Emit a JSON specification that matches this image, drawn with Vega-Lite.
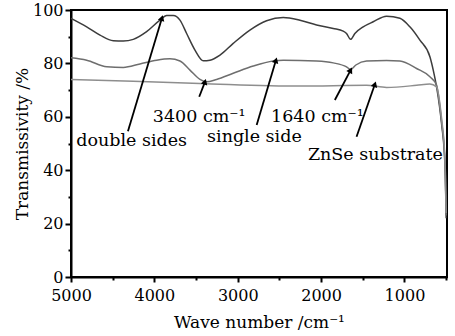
{
  "$schema": "https://vega.github.io/schema/vega-lite/v6.json",
  "width": 376,
  "height": 267,
  "autosize": "none",
  "padding": {"left": 71, "top": 10, "right": 8, "bottom": 59},
  "background": "white",
  "config": {
    "view": {"stroke": "black", "strokeWidth": 2},
    "font": "DejaVu Serif"
  },
  "resolve": {"axis": {"x": "independent", "y": "independent"}},
  "datasets": {
    "curves": [
      {"s": "double", "wn": 5000, "t": 96.9}, {"s": "double", "wn": 4812, "t": 93.7}, {"s": "double", "wn": 4652, "t": 90.6},
      {"s": "double", "wn": 4493, "t": 88.5}, {"s": "double", "wn": 4373, "t": 88.4}, {"s": "double", "wn": 4253, "t": 89.0},
      {"s": "double", "wn": 4093, "t": 91.9}, {"s": "double", "wn": 3933, "t": 96.2}, {"s": "double", "wn": 3853, "t": 97.9},
      {"s": "double", "wn": 3773, "t": 97.9}, {"s": "double", "wn": 3693, "t": 96.2}, {"s": "double", "wn": 3613, "t": 91.2},
      {"s": "double", "wn": 3513, "t": 85.0}, {"s": "double", "wn": 3413, "t": 81.0}, {"s": "double", "wn": 3333, "t": 81.2},
      {"s": "double", "wn": 3213, "t": 83.1}, {"s": "double", "wn": 3054, "t": 87.5}, {"s": "double", "wn": 2854, "t": 92.5},
      {"s": "double", "wn": 2654, "t": 96.0}, {"s": "double", "wn": 2454, "t": 97.2}, {"s": "double", "wn": 2254, "t": 96.2},
      {"s": "double", "wn": 2054, "t": 94.4}, {"s": "double", "wn": 1855, "t": 93.1}, {"s": "double", "wn": 1735, "t": 92.1},
      {"s": "double", "wn": 1695, "t": 91.2}, {"s": "double", "wn": 1646, "t": 89.0}, {"s": "double", "wn": 1595, "t": 91.2},
      {"s": "double", "wn": 1495, "t": 93.7}, {"s": "double", "wn": 1375, "t": 95.6}, {"s": "double", "wn": 1215, "t": 97.7},
      {"s": "double", "wn": 1055, "t": 96.9}, {"s": "double", "wn": 935, "t": 93.7}, {"s": "double", "wn": 815, "t": 88.7},
      {"s": "double", "wn": 695, "t": 82.5}, {"s": "double", "wn": 655, "t": 77.5}, {"s": "double", "wn": 615, "t": 71.2},
      {"s": "double", "wn": 580, "t": 64}, {"s": "double", "wn": 550, "t": 56}, {"s": "double", "wn": 525, "t": 48},
      {"s": "double", "wn": 510, "t": 38}, {"s": "double", "wn": 500, "t": 22},
      {"s": "single", "wn": 5000, "t": 82.1}, {"s": "single", "wn": 4812, "t": 81.2}, {"s": "single", "wn": 4570, "t": 78.7},
      {"s": "single", "wn": 4373, "t": 78.5}, {"s": "single", "wn": 4173, "t": 79.8}, {"s": "single", "wn": 3973, "t": 81.2},
      {"s": "single", "wn": 3813, "t": 81.7}, {"s": "single", "wn": 3693, "t": 80.9}, {"s": "single", "wn": 3573, "t": 77.5},
      {"s": "single", "wn": 3453, "t": 74.0}, {"s": "single", "wn": 3373, "t": 73.1}, {"s": "single", "wn": 3254, "t": 74.0},
      {"s": "single", "wn": 3054, "t": 76.3}, {"s": "single", "wn": 2814, "t": 79.0}, {"s": "single", "wn": 2574, "t": 80.9},
      {"s": "single", "wn": 2454, "t": 81.2}, {"s": "single", "wn": 2054, "t": 80.9}, {"s": "single", "wn": 1855, "t": 80.2},
      {"s": "single", "wn": 1695, "t": 78.7}, {"s": "single", "wn": 1646, "t": 77.7}, {"s": "single", "wn": 1583, "t": 79.4},
      {"s": "single", "wn": 1455, "t": 80.9}, {"s": "single", "wn": 1215, "t": 81.1}, {"s": "single", "wn": 1055, "t": 80.9},
      {"s": "single", "wn": 855, "t": 78.1}, {"s": "single", "wn": 695, "t": 75.0}, {"s": "single", "wn": 615, "t": 71.9},
      {"s": "single", "wn": 580, "t": 65}, {"s": "single", "wn": 550, "t": 57}, {"s": "single", "wn": 525, "t": 49},
      {"s": "single", "wn": 510, "t": 39}, {"s": "single", "wn": 500, "t": 23},
      {"s": "znse", "wn": 5000, "t": 74.0}, {"s": "znse", "wn": 4253, "t": 73.3}, {"s": "znse", "wn": 3453, "t": 72.5},
      {"s": "znse", "wn": 2254, "t": 71.5}, {"s": "znse", "wn": 1455, "t": 71.8}, {"s": "znse", "wn": 1215, "t": 71.0},
      {"s": "znse", "wn": 855, "t": 71.8}, {"s": "znse", "wn": 695, "t": 72.3}, {"s": "znse", "wn": 615, "t": 71.2},
      {"s": "znse", "wn": 580, "t": 66}, {"s": "znse", "wn": 550, "t": 58}, {"s": "znse", "wn": 525, "t": 50},
      {"s": "znse", "wn": 510, "t": 40}, {"s": "znse", "wn": 500, "t": 24}
    ],
    "arrows": [
      {"id": "double", "x1": 4317, "y1": 54.6, "x2": 3909, "y2": 97.0},
      {"id": "3400", "x1": 3462, "y1": 67.5, "x2": 3393, "y2": 73.1},
      {"id": "single", "x1": 2773, "y1": 56.9, "x2": 2542, "y2": 81.2},
      {"id": "1640", "x1": 1835, "y1": 66.3, "x2": 1646, "y2": 77.5},
      {"id": "znse", "x1": 1575, "y1": 52.5, "x2": 1355, "y2": 72.2}
    ],
    "labels": [
      {"label": "double sides", "wn": 4273, "t": 49.1},
      {"label": "3400 cm⁻¹", "wn": 3462, "t": 58.0},
      {"label": "single side", "wn": 2800, "t": 50.6},
      {"label": "1640 cm⁻¹", "wn": 2044, "t": 58.0},
      {"label": "ZnSe substrate", "wn": 1349, "t": 43.8}
    ]
  },
  "layer": [
    {
      "data": {"name": "curves"},
      "mark": {"type": "line", "strokeWidth": 1.5, "interpolate": "monotone"},
      "encoding": {
        "x": {
          "field": "wn", "type": "quantitative",
          "scale": {"domain": [490, 5000], "reverse": true, "nice": false, "zero": false},
          "axis": {
            "values": [5000, 4000, 3000, 2000, 1000], "format": "d",
            "title": "Wave number /cm⁻¹",
            "titleFont": "DejaVu Serif", "titleFontSize": 17, "titleFontWeight": "normal", "titleColor": "black", "titlePadding": 11,
            "labelFont": "DejaVu Serif", "labelFontSize": 16, "labelColor": "black", "labelPadding": 5,
            "tickSize": 5, "tickWidth": 2, "tickColor": "black",
            "domainColor": "black", "domainWidth": 2, "grid": false, "labelFlush": false
          }
        },
        "y": {
          "field": "t", "type": "quantitative",
          "scale": {"domain": [0, 100], "nice": false},
          "axis": {
            "values": [0, 20, 40, 60, 80, 100],
            "title": "Transmissivity /%",
            "titleFont": "DejaVu Serif", "titleFontSize": 17, "titleFontWeight": "normal", "titleColor": "black", "titlePadding": 1,
            "labelFont": "DejaVu Serif", "labelFontSize": 16, "labelColor": "black", "labelPadding": 2,
            "tickSize": 6, "tickWidth": 2, "tickColor": "black",
            "domainColor": "black", "domainWidth": 2, "grid": false
          }
        },
        "color": {
          "field": "s", "type": "nominal",
          "scale": {"domain": ["double", "single", "znse"], "range": ["#3c3c3c", "#6e6e6e", "#8e8e8e"]},
          "legend": null
        }
      }
    },
    {
      "data": {"name": "arrows"},
      "mark": {"type": "rule", "color": "black", "strokeWidth": 1.8},
      "encoding": {
        "x": {
          "field": "x1", "type": "quantitative",
          "axis": {"orient": "bottom", "values": [4500, 3500, 2500, 1500, 500], "labels": false, "domain": false, "title": null, "grid": false, "tickSize": 3, "tickWidth": 2, "tickColor": "black"}
        },
        "y": {
          "field": "y1", "type": "quantitative",
          "axis": {"orient": "left", "values": [10, 30, 50, 70, 90], "labels": false, "domain": false, "title": null, "grid": false, "tickSize": 3, "tickWidth": 2, "tickColor": "black"}
        },
        "x2": {"field": "x2"},
        "y2": {"field": "y2"}
      }
    },
    {
      "data": {"name": "arrows"},
      "transform": [{"filter": "datum.id !== '1640'"}],
      "mark": {"type": "point", "shape": "triangle-up", "filled": true, "color": "black", "size": 45, "angle": 18, "opacity": 1},
      "encoding": {
        "x": {"field": "x2", "type": "quantitative", "axis": null},
        "y": {"field": "y2", "type": "quantitative", "axis": null}
      }
    },
    {
      "data": {"name": "arrows"},
      "transform": [{"filter": "datum.id === '1640'"}],
      "mark": {"type": "point", "shape": "triangle-up", "filled": true, "color": "black", "size": 45, "angle": 28, "opacity": 1},
      "encoding": {
        "x": {"field": "x2", "type": "quantitative", "axis": null},
        "y": {"field": "y2", "type": "quantitative", "axis": null}
      }
    },
    {
      "data": {"name": "labels"},
      "mark": {"type": "text", "font": "DejaVu Serif", "fontSize": 17.5, "color": "black", "align": "center", "baseline": "alphabetic"},
      "encoding": {
        "x": {"field": "wn", "type": "quantitative", "axis": null},
        "y": {"field": "t", "type": "quantitative", "axis": null},
        "text": {"field": "label"}
      }
    }
  ]
}
